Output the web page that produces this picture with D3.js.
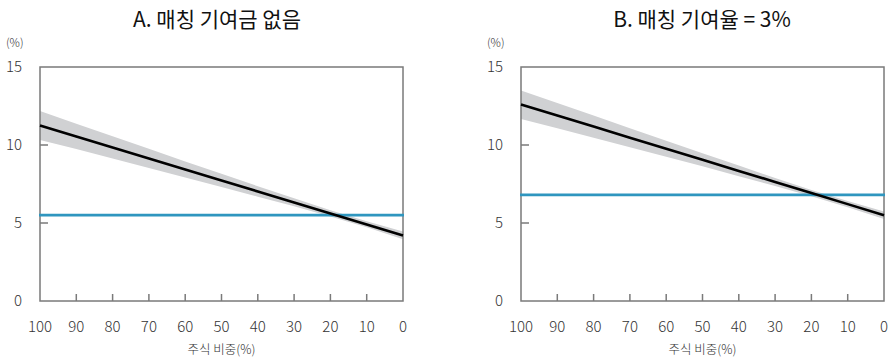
<!DOCTYPE html>
<html><head><meta charset="utf-8">
<script src="https://cdn.jsdelivr.net/npm/d3@7/dist/d3.min.js"></script>
<style>
body{margin:0;background:#fff;}
text{font-family:"Noto Sans CJK KR","Noto Sans",sans-serif;}
</style></head>
<body><svg id="c" width="891" height="359"></svg>
<script>
const equityShare = [100, 90, 80, 70, 60, 50, 40, 30, 20, 10, 0];
const yTicks = [0, 5, 10, 15];
const titles = ["A. 매칭 기여금 없음", "B. 매칭 기여율 = 3%"];
const xLabel = "주식 비중(%)";
const yUnit = "(%)";

const meanA  = [11.25, 10.55, 9.84, 9.14, 8.43, 7.73, 7.02, 6.32, 5.61, 4.91, 4.20];
const lowerA = [10.32, 9.74, 9.13, 8.53, 7.92, 7.31, 6.69, 6.07, 5.42, 4.72, 3.96];
const upperA = [12.18, 11.37, 10.56, 9.76, 8.95, 8.15, 7.36, 6.58, 5.81, 5.11, 4.46];
const baseA = 5.5;

const meanB  = [12.60, 11.89, 11.18, 10.47, 9.76, 9.05, 8.34, 7.63, 6.92, 6.21, 5.50];
const lowerB = [11.67, 11.08, 10.47, 9.86, 9.25, 8.63, 8.00, 7.37, 6.72, 6.01, 5.26];
const upperB = [13.50, 12.70, 11.89, 11.08, 10.27, 9.47, 8.68, 7.89, 7.12, 6.41, 5.74];
const baseB = 6.8;

const panels = [
  {title: titles[0], mean: meanA, lower: lowerA, upper: upperA, base: baseA, left: 40, right: 403, titleX: 217, labelX: 22, unitX: 6},
  {title: titles[1], mean: meanB, lower: lowerB, upper: upperB, base: baseB, left: 521, right: 884, titleX: 702, labelX: 503, unitX: 487}
];

const svg = d3.select("#c");
const plotTop = 67, plotBottom = 301;
const axisColor = "#7a7a7a", textColor = "#333";

panels.forEach(p => {
  const g = svg.append("g");
  const x = d3.scaleLinear().domain([100, 0]).range([p.left, p.right]);
  const y = d3.scaleLinear().domain([0, 15]).range([plotBottom, plotTop]);
  const data = equityShare.map((s, i) => ({s, m: p.mean[i], lo: p.lower[i], hi: p.upper[i]}));

  g.append("path").datum(data)
    .attr("d", d3.area().x(d => x(d.s)).y0(d => y(d.lo)).y1(d => y(d.hi)))
    .attr("fill", "#d0d1d3");

  g.append("rect").attr("x", p.left).attr("y", plotTop)
    .attr("width", p.right - p.left).attr("height", plotBottom - plotTop)
    .attr("fill", "none").attr("stroke", axisColor).attr("stroke-width", 1.5);

  g.selectAll(".yt").data(yTicks.filter(t => t > 0 && t < 15)).join("line")
    .attr("x1", p.left).attr("x2", p.left + 8)
    .attr("y1", d => y(d)).attr("y2", d => y(d))
    .attr("stroke", axisColor).attr("stroke-width", 1.5);
  g.selectAll(".xt").data(equityShare.filter(t => t > 0 && t < 100)).join("line")
    .attr("x1", d => x(d)).attr("x2", d => x(d))
    .attr("y1", plotBottom).attr("y2", plotBottom - 7)
    .attr("stroke", axisColor).attr("stroke-width", 1.5);

  g.append("line").attr("x1", p.left - 1).attr("x2", p.right + 1)
    .attr("y1", y(p.base)).attr("y2", y(p.base))
    .attr("stroke", "#2f96bf").attr("stroke-width", 2.8);

  g.append("path").datum(data)
    .attr("d", d3.line().x(d => x(d.s)).y(d => y(d.m)))
    .attr("fill", "none").attr("stroke", "#000").attr("stroke-width", 2.6);

  g.selectAll(".yl").data(yTicks).join("text")
    .attr("x", p.labelX).attr("y", d => y(d)).attr("dy", "0.35em")
    .attr("text-anchor", "end").attr("font-size", 15).attr("font-weight", 300).attr("fill", textColor)
    .text(d => d);
  g.selectAll(".xl").data(equityShare).join("text")
    .attr("x", d => x(d)).attr("y", 327).attr("dy", "0.35em")
    .attr("text-anchor", "middle").attr("font-size", 15).attr("font-weight", 300).attr("fill", textColor)
    .text(d => d);

  g.append("text").attr("x", p.unitX).attr("y", 43).attr("dy", "0.35em")
    .attr("font-size", 11.5).attr("font-weight", 300).attr("fill", textColor).text(yUnit);
  g.append("text").attr("x", (p.left + p.right) / 2).attr("y", 350).attr("dy", "0.35em")
    .attr("text-anchor", "middle").attr("font-size", 12.5).attr("font-weight", 300).attr("fill", textColor).text(xLabel);
  g.append("text").attr("x", p.titleX).attr("y", 20).attr("dy", "0.35em")
    .attr("text-anchor", "middle").attr("font-size", 21).attr("fill", "#111").text(p.title);
});
</script></body></html>
